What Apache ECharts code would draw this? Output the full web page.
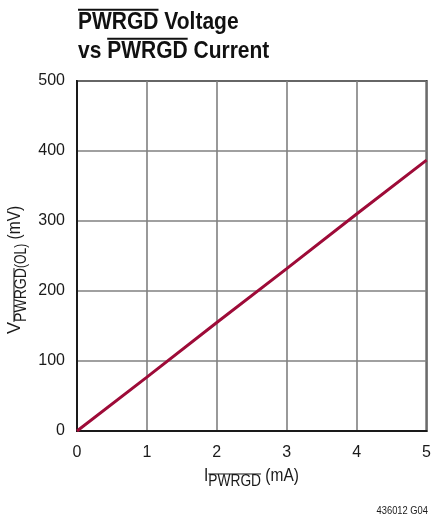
<!DOCTYPE html>
<html>
<head>
<meta charset="utf-8">
<script src="https://cdn.jsdelivr.net/npm/echarts@6/dist/echarts.min.js"></script>
<style>
html,body{margin:0;padding:0;background:#fff;}
#chart{width:434px;height:517px;}
</style>
</head>
<body>
<div id="chart"></div>
<script>
// ---- data ----
const currentMA = [0, 1, 2, 3, 4, 5];
const voltageMV = [0, 77, 155, 232, 310, 387];
const xTicks = [0, 1, 2, 3, 4, 5];
const yTicks = [0, 100, 200, 300, 400, 500];
const titleLine1 = [{t: 'PWRGD', o: true}, {t: ' Voltage'}];
const titleLine2 = [{t: 'vs '}, {t: 'PWRGD', o: true}, {t: ' Current'}];
const xName = [{t: 'I'}, {t: 'PWRGD', sub: true, o: true}, {t: ' (mA)'}];
const yName = [{t: 'V', s: 1.0}, {t: 'PWRGD', sub: true, o: true, s: 0.88}, {t: '(OL)', sub: true, s: 0.76}, {t: ' (mV)', s: 0.86}];
const footnote = '436012 G04';

const REG = '"Liberation Sans", Arial, Helvetica, sans-serif';

const cvs = document.createElement('canvas');
const ctx = cvs.getContext('2d');
function measure(text, font) { ctx.font = font; return ctx.measureText(text).width; }

// lay out a composite label (condensed via scaleX); returns graphic elements
function composite(parts, ox, oy, opts) {
  const els = [];
  let u = 0;
  const rot = opts.rotated;
  parts.forEach(p => {
    const sc = p.s || opts.scale;
    const size = p.sub ? opts.subSize : opts.size;
    const font = (opts.bold ? 'bold ' : '') + size + 'px ' + REG;
    const w = measure(p.t, font) * sc;
    const base = p.sub ? opts.subDrop : 0; // baseline offset (down)
    const mid = base - size * 0.36; // cap middle
    let sx, sy;
    if (rot) { sx = ox + mid; sy = oy - u; } else { sx = ox + u; sy = oy + mid; }
    els.push({
      type: 'text', x: sx, y: sy, rotation: rot ? Math.PI / 2 : 0, scaleX: sc, scaleY: 1, silent: true,
      style: {text: p.t, font: font, fill: opts.color, textAlign: 'left', textVerticalAlign: 'middle'}
    });
    if (p.o) {
      const ov = base - size * 0.72 - opts.ovGap;
      const shape = rot ? {x1: ox + ov, y1: oy - u, x2: ox + ov, y2: oy - u - w}
                        : {x1: ox + u, y1: oy + ov, x2: ox + u + w, y2: oy + ov};
      els.push({type: 'line', silent: true, shape: shape, style: {stroke: opts.color, lineWidth: opts.ovWidth}});
    }
    u += w;
  });
  return els;
}

const titleOpts = {size: 24, subSize: 24, bold: true, subDrop: 0, ovGap: 4, ovWidth: 2, scale: 0.875, color: '#111'};
const labelOpts = {size: 18, subSize: 16, subDrop: 5, ovGap: 1.5, ovWidth: 1, scale: 0.86, color: '#1a1a1a'};
const graphics = []
  .concat(composite(titleLine1, 78, 31, titleOpts))
  .concat(composite(titleLine2, 78, 60, titleOpts))
  .concat(composite(xName, 204, 483, Object.assign({}, labelOpts, {subDrop: 4})))
  .concat(composite(yName, 22, 334, Object.assign({}, labelOpts, {rotated: true})));
graphics.push({
  type: 'text', x: 428, y: 510.5, silent: true, scaleX: 0.85, originX: 0,
  style: {text: footnote, font: '11px ' + REG, fill: '#1a1a1a', textAlign: 'right', textVerticalAlign: 'middle'}
});

const chart = echarts.init(document.getElementById('chart'), null, {renderer: 'canvas'});
chart.setOption({
  animation: false,
  backgroundColor: '#fff',
  grid: {left: 77, top: 81, width: 351, height: 350, show: true, borderColor: '#1a1a1a', borderWidth: 2, backgroundColor: 'transparent'},
  xAxis: {
    type: 'value', min: xTicks[0], max: xTicks[xTicks.length - 1], interval: 1,
    axisLine: {show: true, lineStyle: {color: '#1a1a1a', width: 2}},
    axisTick: {show: false},
    axisLabel: {fontFamily: REG, fontSize: 16, color: '#1a1a1a', margin: 14},
    splitLine: {show: true, lineStyle: {color: '#808080', width: 1.6}}
  },
  yAxis: {
    type: 'value', min: yTicks[0], max: yTicks[yTicks.length - 1], interval: 100,
    axisLine: {show: true, lineStyle: {color: '#1a1a1a', width: 2}},
    axisTick: {show: false},
    axisLabel: {fontFamily: REG, fontSize: 16, color: '#1a1a1a', margin: 12},
    splitLine: {show: true, lineStyle: {color: '#808080', width: 1.6}}
  },
  series: [{
    type: 'line',
    data: currentMA.map((x, i) => [x, voltageMV[i]]),
    showSymbol: false,
    lineStyle: {color: '#9e0b38', width: 3},
    z: 5
  }],
  graphic: graphics
});
</script>
</body>
</html>
